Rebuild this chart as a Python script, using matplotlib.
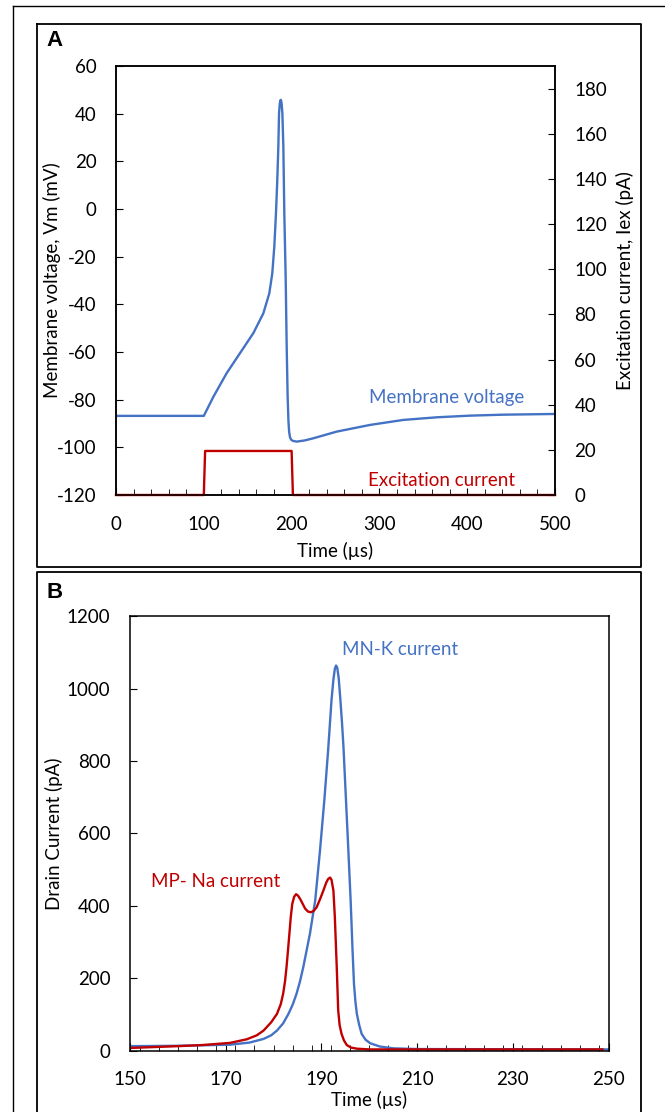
import matplotlib
matplotlib.use('Agg')
from matplotlib import pyplot as plt
from matplotlib.ticker import MultipleLocator
from matplotlib.lines import Line2D

plt.rcParams['font.family'] = ['Lato', 'DejaVu Sans']
plt.rcParams['axes.unicode_minus'] = False

# Panel A: membrane voltage and excitation current
t_vm = [0, 100, 110.9, 126, 141.2, 156.4, 167.8, 174.6, 178, 180.3, 182.2,
        183.7, 184.9, 185.7, 186.5, 187.1, 187.6, 188.1, 188.7, 189.5, 190.6, 191.7, 193.3,
        194.4, 195.5, 196.4, 197.2, 198.2, 199.5, 201.5, 205.8, 215, 224.8, 251.4, 289.3,
        327.2, 365.3, 403.2, 441.1, 500]
vm = [-86.8, -86.8, -78.8, -68.9, -60.5, -52.1, -43.8, -35.4, -27, -15.8, -1.8,
      12.2, 26.2, 40.2, 44, 45.5, 45.8, 45.5, 44, 40.2, 26.2, -1.8, -29.8,
      -57.8, -78.8, -89, -93.5, -95.8, -96.8, -97.3, -97.6, -97.1, -96.2, -93.4, -90.6,
      -88.5, -87.4, -86.7, -86.3, -86.0]

t_iex = [0, 100, 101.5, 200, 201.5, 500]
iex = [0, 0, 19.5, 19.5, 0, 0]
a_xticks = [0, 100, 200, 300, 400, 500]

# Panel B: drain currents
t_k = [150, 160, 170.9, 175, 177.9, 179.5, 180.7, 182, 183.1, 184, 184.8, 185.5, 186.2,
       187.6, 188.7, 189.7, 190.6, 191.4, 192.1, 192.5, 192.8, 193.05, 193.3, 193.6,
       193.9, 194.3, 194.6, 195.1, 195.6, 196.1, 196.5, 196.8, 197.1, 197.4, 197.9,
       198.4, 199.2, 200.2, 202.2, 205, 210, 250]
i_k = [12, 13, 16, 22, 32, 42, 55, 75, 101, 127, 157, 190, 230,
       323, 415, 553, 691, 830, 968, 1025, 1055, 1064, 1058, 1030,
       980, 905, 840, 700, 560, 415, 277, 184, 135, 101, 70,
       46, 30, 20, 11, 6, 4, 3]

t_na = [150, 160, 165, 170.9, 174.4, 176.5, 177.9, 179.5, 180.7, 181.5, 182, 182.4,
        182.7, 183, 183.3, 183.6, 183.9, 184.3, 184.7, 185.1, 185.5, 185.9, 186.6,
        187.2, 187.8, 188.4, 189, 189.7, 190.4, 191, 191.4, 191.8, 192.1, 192.5,
        192.8, 193.2, 193.5, 193.8, 194.2, 194.7, 195.3, 196.2, 197.4, 200, 248.7]
i_na = [7, 12, 15, 21, 31, 42, 55, 78, 101, 128, 157, 192,
        230, 275, 322, 370, 405, 425, 432, 428, 420, 410, 392,
        384, 382, 386, 396, 418, 442, 464, 474, 478, 472, 442,
        369, 230, 111, 70, 46, 28, 15, 8, 5, 3, 3]
b_xticks = [150, 170, 190, 210, 230, 250]

blue = '#4472C4'
red = '#C00000'
W, H = 665, 1112

fig = plt.figure(figsize=(W / 100, H / 100), dpi=100)


def box(x0, y0, x1, y1):
    # pixel coords (top-left origin) -> figure fraction
    return [x0 / W, 1 - y1 / H, (x1 - x0) / W, (y1 - y0) / H]


def frame_line(xs, ys, lw=1.3):
    fig.add_artist(Line2D([x / W for x in xs], [1 - y / H for y in ys],
                          color='black', lw=lw, transform=fig.transFigure))


# outer frame and panel frames
frame_line([12.7, 12.7], [1112, 6], lw=1.0)
frame_line([12.7, 665], [6, 6], lw=1.0)
frame_line([37, 641, 641, 37, 37], [24, 24, 567, 567, 24])
frame_line([37, 37, 641, 641], [1112, 572, 572, 1112])

fs = 13.5

# ---- Panel A ----
ax = fig.add_axes(box(116, 66, 555, 495))
ax.plot(t_vm, vm, color=blue, lw=1.7)
ax.set_xlim(0, 500)
ax.set_ylim(-120, 60)
ax.set_xticks(a_xticks)
ax.xaxis.set_minor_locator(MultipleLocator(20))
ax.yaxis.set_major_locator(MultipleLocator(20))
ax.tick_params(axis='both', which='both', direction='in', labelsize=fs)
ax.tick_params(axis='x', which='major', length=5, pad=15)
ax.tick_params(axis='x', which='minor', length=4)
ax.tick_params(axis='y', which='major', length=5, pad=14)
ax.set_xlabel('Time (µs)', fontsize=fs)
ax.xaxis.set_label_coords(0.5, -0.11)
ax.set_ylabel('Membrane voltage, Vm (mV)', fontsize=fs)
ax.yaxis.set_label_coords(-0.125, 0.5)
for s in ax.spines.values():
    s.set_linewidth(1.1)

ax2 = ax.twinx()
ax2.plot(t_iex, iex, color=red, lw=1.7, clip_on=False)
ax2.set_ylim(0, 190)
ax2.yaxis.set_major_locator(MultipleLocator(20))
ax2.tick_params(axis='y', direction='in', length=5, pad=14, labelsize=fs)
ax2.set_ylabel('Excitation current, Iex (pA)', fontsize=fs, rotation=90)
ax2.yaxis.set_label_coords(1.138, 0.5)
for s in ax2.spines.values():
    s.set_linewidth(1.1)

ax.text(288, -79, 'Membrane voltage', color=blue, fontsize=fs, va='center')
ax.text(287, -114, 'Excitation current', color=red, fontsize=fs, va='center')
fig.text(46 / W, 1 - 40 / H, 'A', fontsize=16, fontweight='bold',
         family='Liberation Sans', va='center')

# ---- Panel B ----
bx = fig.add_axes(box(130, 616.3, 608.6, 1050.5))
bx.plot(t_k, i_k, color=blue, lw=1.7)
bx.plot(t_na, i_na, color=red, lw=1.7)
bx.set_xlim(150, 250)
bx.set_ylim(0, 1200)
bx.set_xticks(b_xticks)
bx.xaxis.set_minor_locator(MultipleLocator(4))
bx.yaxis.set_major_locator(MultipleLocator(200))
bx.tick_params(axis='both', which='both', direction='in', labelsize=fs)
bx.tick_params(axis='x', which='major', length=6, pad=15)
bx.tick_params(axis='x', which='minor', length=4)
bx.tick_params(axis='y', which='major', length=5, pad=14)
bx.set_xlabel('Time (µs)', fontsize=fs)
bx.xaxis.set_label_coords(0.5, -0.093)
bx.set_ylabel('Drain Current (pA)', fontsize=fs)
bx.yaxis.set_label_coords(-0.139, 0.5)
for s in bx.spines.values():
    s.set_linewidth(1.1)

bx.text(194.3, 1109, 'MN-K current', color=blue, fontsize=fs, va='center')
bx.text(154.3, 468, 'MP- Na current', color=red, fontsize=fs, va='center')
fig.text(46 / W, 1 - 592 / H, 'B', fontsize=16, fontweight='bold',
         family='Liberation Sans', va='center')

fig.savefig('out.png', dpi=100)
